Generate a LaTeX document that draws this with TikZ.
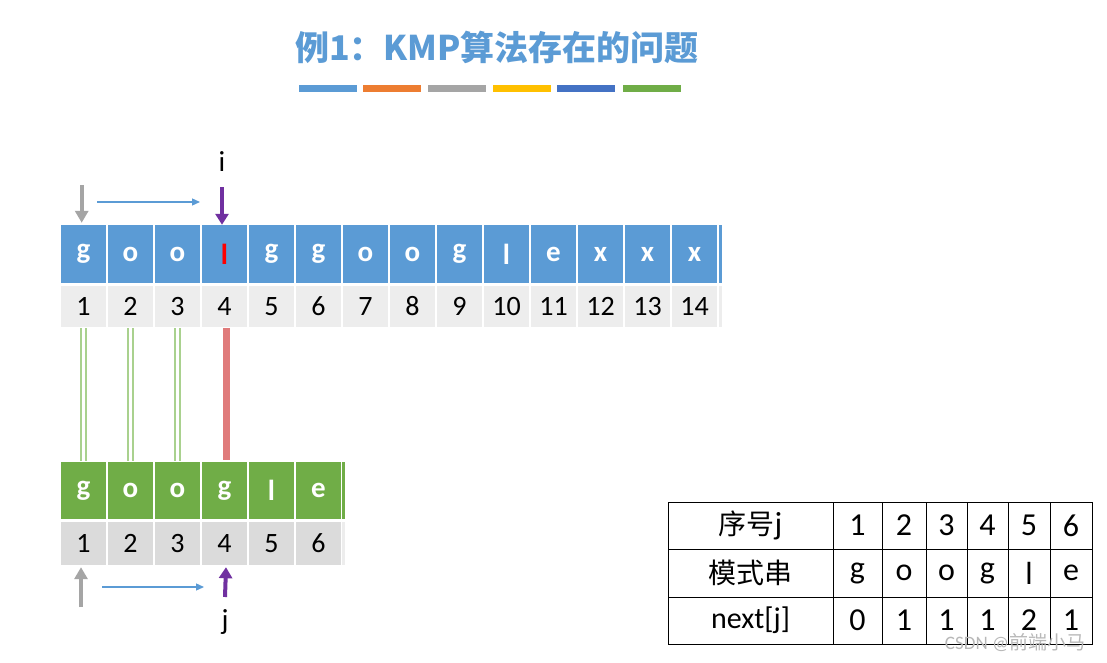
\documentclass[tikz,border=0pt]{standalone}
\usepackage{fontspec}
\setmainfont{Carlito}
\newfontfamily\cjk{Noto Sans CJK SC}
\usetikzlibrary{arrows.meta}
\definecolor{cblue}{HTML}{5B9BD5}
\definecolor{corange}{HTML}{ED7D31}
\definecolor{cgray}{HTML}{A5A5A5}
\definecolor{cyellow}{HTML}{FFC000}
\definecolor{cdblue}{HTML}{4472C4}
\definecolor{cgreen}{HTML}{70AD47}
\definecolor{lgray}{HTML}{EDEDED}
\definecolor{mgray}{HTML}{DBDBDB}
\definecolor{lgreen}{HTML}{A9D18E}
\definecolor{cred}{HTML}{E07B7B}
\definecolor{cpurple}{HTML}{7030A0}
\begin{document}
\begin{tikzpicture}[x=1pt,y=-1pt,
  tcell/.style={rectangle,fill=cblue,minimum width=45pt,minimum height=58pt,inner sep=0pt,text=white,font=\fontsize{29}{29}\selectfont\bfseries},
  tnum/.style={rectangle,fill=lgray,minimum width=45pt,minimum height=41pt,inner sep=0pt,font=\fontsize{28}{28}\selectfont},
  pcell/.style={rectangle,fill=cgreen,minimum width=45pt,minimum height=57pt,inner sep=0pt,text=white,font=\fontsize{29}{29}\selectfont\bfseries},
  pnum/.style={rectangle,fill=mgray,minimum width=45pt,minimum height=43pt,inner sep=0pt,font=\fontsize{28}{28}\selectfont},
  match/.style={draw=lgreen,line width=2pt},
  mis/.style={draw=cred,line width=7pt},
  grayarrow/.style={draw=cgray,line width=4pt,-{Triangle[width=13pt,length=12pt]}},
  purplearrow/.style={draw=cpurple,line width=4pt,-{Triangle[width=13pt,length=11pt]}},
  bluearrow/.style={draw=cblue,line width=1.3pt,-{Triangle[width=7pt,length=8pt]}},
  tab/.style={rectangle,draw=black,line width=1pt,inner sep=0pt,font=\fontsize{32}{32}\selectfont},
  lab/.style={font=\fontsize{29}{29}\selectfont}
]
\useasboundingbox (0,0) rectangle (1107,663);
\fill[white] (0,0) rectangle (1107,663);

% title
\node[text=cblue,font=\cjk\bfseries\fontsize{34}{34}\selectfont] (title) at (497,47) {例1：KMP算法存在的问题};
\fill[cblue]   (299,85) rectangle (357,92);
\fill[corange] (363,85) rectangle (421,92);
\fill[cgray]   (428,85) rectangle (486,92);
\fill[cyellow] (493,85) rectangle (551,92);
\fill[cdblue]  (557,85) rectangle (615,92);
\fill[cgreen]  (623,85) rectangle (681,92);

% main string
\foreach \c [count=\k] in {g,o,o,l,g,g,o,o,g,l,e,x,x,x} {
  \node[tcell] (t\k) at ({83.5+47*(\k-1)},254) {\ifnum\k=4 \textcolor{red}{\c}\else\c\fi};
  \node[tnum] (n\k) at ({83.5+47*(\k-1)},306.5) {\k};
}
\fill[cblue] (719,225) rectangle (722,283);
\fill[lgray] (719,286) rectangle (722,327);

% pattern string
\foreach \c [count=\k] in {g,o,o,g,l,e} {
  \node[pcell] (p\k) at ({83.5+47*(\k-1)},490.5) {\c};
  \node[pnum] (q\k) at ({83.5+47*(\k-1)},543.5) {\k};
}
\fill[cgreen] (342,462) rectangle (344.5,519);
\fill[lgray] (342,522) rectangle (344.5,565);

% match lines
\foreach \k in {1,2,3} {
  \draw[match] ([xshift=-2.3pt,yshift=-1pt]n\k.south) -- ([xshift=-2.3pt,yshift=1pt]p\k.north);
  \draw[match] ([xshift=2.3pt,yshift=-1pt]n\k.south) -- ([xshift=2.3pt,yshift=1pt]p\k.north);
}
\draw[mis] ([xshift=1.5pt,yshift=-1pt]n4.south) -- ([xshift=1.5pt,yshift=2pt]p4.north);

% top pointers
\node[lab] (ilab) at (222,162) {i};
\coordinate (gtop) at (81.7,185);
\draw[grayarrow] (gtop) -- ([xshift=-1.8pt,yshift=2pt]t1.north);
\coordinate (ptop) at (222,187);
\draw[purplearrow] (ptop) -- ([xshift=-2.5pt]t4.north);
\coordinate (b1s) at (97,202);
\coordinate (b1e) at (200,202);
\draw[bluearrow] (b1s) -- (b1e);

% bottom pointers
\node[lab] (jlab) at (225,622) {j};
\coordinate (gbot) at (81,607);
\draw[grayarrow] (gbot) -- ([xshift=-2.5pt,yshift=-2pt]q1.south);
\coordinate (pbot) at (225,597);
\draw[purplearrow] (pbot) -- ([xshift=1.5pt,yshift=-2pt]q4.south);
\coordinate (b2s) at (102,587);
\coordinate (b2e) at (204,587);
\draw[bluearrow] (b2s) -- (b2e);

% table
\node[tab,minimum width=165pt,minimum height=47pt] (h1) at (750.5,525.5) {{\cjk\fontsize{28}{28}\selectfont 序号}j};
\node[tab,minimum width=165pt,minimum height=48pt] (h2) at (750.5,573) {{\cjk\fontsize{28}{28}\selectfont 模式串}};
\node[tab,minimum width=165pt,minimum height=47pt,font=\fontsize{30}{30}\selectfont] (h3) at (750.5,620.5) {next[j]};
\foreach \a/\b/\r/\s/\n [count=\k] in {833/882/1/g/0,882/926/2/o/1,926/967/3/o/1,967/1008/4/g/1,1008/1050/5/l/2,1050/1092/6/e/1} {
  \pgfmathsetmacro\w{\b-\a}
  \pgfmathsetmacro\cx{(\a+\b)/2}
  \node[tab,minimum width=\w pt,minimum height=47pt] (r\k) at (\cx,525.5) {\r};
  \node[tab,minimum width=\w pt,minimum height=48pt] (m\k) at (\cx,573) {\s};
  \node[tab,minimum width=\w pt,minimum height=47pt] (x\k) at (\cx,620.5) {\n};
}

% watermark
\node[text=black!28,font=\fontsize{19}{19}\selectfont] (wm) at (1015,643) {CSDN @{\cjk 前端小马}};
\end{tikzpicture}
\end{document}
